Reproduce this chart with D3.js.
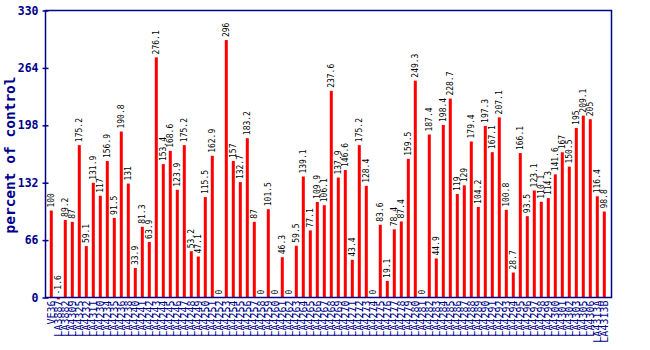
<!DOCTYPE html>
<html>
<head>
<meta charset="utf-8">
<script src="https://cdn.jsdelivr.net/npm/d3@7"></script>
<style>
  html, body { margin: 0; padding: 0; background: #fff; }
  svg { display: block; }
</style>
</head>
<body>
<svg id="chart" width="650" height="350"></svg>
<script>
// Sample lines along the x axis
const categories = [
  "VE36","LA3887","LA3882","LA4309","LA4325","LA4232","LA4311","LA4230",
  "LA4234","LA4235","LA4236","LA4238","LA4240","LA4241","LA4242","LA4243",
  "LA4244","LA4245","LA4246","LA4247","LA4248","LA4249","LA4250","LA4251",
  "LA4252","LA4253","LA4254","LA4255","LA4256","LA4257","LA4258","LA4259",
  "LA4260","LA4261","LA4262","LA4263","LA4264","LA4265","LA4266","LA4267",
  "LA4268","LA4269","LA4270","LA4271","LA4272","LA4273","LA4274","LA4275",
  "LA4276","LA4277","LA4278","LA4279","LA4280","LA4281","LA4282","LA4283",
  "LA4284","LA4285","LA4286","LA4287","LA4288","LA4289","LA4290","LA4291",
  "LA4292","LA4293","LA4294","LA4295","LA4296","LA4297","LA4298","LA4299",
  "LA4300","LA4301","LA4302","LA4303","LA4305","LA4306","LA4313A","LA4313B"
];

// Percent of control for each line
const values = [
  100, -1.6, 89.2, 87, 175.2, 59.1, 131.9, 117,
  156.9, 91.5, 190.8, 131, 33.9, 81.3, 63.9, 276.1,
  153.4, 168.6, 123.9, 175.2, 53.2, 47.1, 115.5, 162.9,
  0, 296, 157, 132.7, 183.2, 87, 0, 101.5,
  0, 46.3, 0, 59.5, 139.1, 77.1, 109.9, 106.1,
  237.6, 137.9, 146.6, 43.4, 175.2, 128.4, 0, 83.6,
  19.1, 78.4, 87.4, 159.5, 249.3, 0, 187.4, 44.9,
  198.4, 228.7, 119, 129, 179.4, 104.2, 197.3, 167.1,
  207.1, 100.8, 28.7, 166.1, 93.5, 123.1, 110.1, 114.3,
  141.6, 167, 150.5, 195, 209.1, 205, 116.4, 98.8
];

const yTicks = [0, 66, 132, 198, 264, 330];

const navy = "#00008b";
const svg = d3.select("#chart");

const frame = { left: 45.5, right: 611.5, top: 10.5, bottom: 297.5 };

const x = d3.scaleBand()
  .domain(categories)
  .range([47.8, 607.8])
  .padding(0);

const y = d3.scaleLinear()
  .domain([0, 330])
  .range([frame.bottom, frame.top]);

const barW = 3;

// Bars
svg.append("g")
  .selectAll("rect")
  .data(values)
  .join("rect")
  .attr("x", (d, i) => x(categories[i]) + x.bandwidth() / 2 - barW / 2)
  .attr("y", d => y(Math.max(d, 0)))
  .attr("width", barW)
  .attr("height", d => Math.abs(y(d) - y(0)) + 0.5)
  .attr("fill", "#ff0000");

// Frame around the plot
svg.append("rect")
  .attr("x", frame.left)
  .attr("y", frame.top)
  .attr("width", frame.right - frame.left)
  .attr("height", frame.bottom - frame.top)
  .attr("fill", "none")
  .attr("stroke", navy)
  .attr("stroke-width", 1.5);

// Y axis with ticks crossing the left edge
const yAxis = d3.axisLeft(y)
  .tickValues(yTicks)
  .tickSize(3)
  .tickPadding(4)
  .tickFormat(d3.format("d"));

const gy = svg.append("g")
  .attr("transform", `translate(${frame.left},0)`)
  .call(yAxis);
gy.select(".domain").remove();
gy.selectAll(".tick line")
  .attr("x1", 3)
  .attr("x2", -3)
  .attr("stroke", navy)
  .attr("stroke-width", 1.5);
gy.selectAll(".tick text")
  .attr("fill", navy)
  .attr("font-family", "'DejaVu Sans Mono', monospace")
  .attr("font-weight", "bold")
  .attr("font-size", 11.5);

// Y axis title
svg.append("text")
  .attr("transform", `translate(15,155) rotate(-90)`)
  .attr("text-anchor", "middle")
  .attr("fill", navy)
  .attr("font-family", "'DejaVu Sans Mono', monospace")
  .attr("font-weight", "bold")
  .attr("font-size", 14.5)
  .text("percent of control");

// Value labels above each bar
svg.append("g")
  .selectAll("text")
  .data(values)
  .join("text")
  .attr("transform", (d, i) => {
    const cx = x(categories[i]) + x.bandwidth() / 2 + 2.8;
    const cy = y(Math.max(d, 0)) - 3;
    return `translate(${cx},${cy}) rotate(-90)`;
  })
  .attr("text-anchor", "start")
  .attr("fill", "#000")
  .attr("font-family", "'DejaVu Sans Mono', monospace")
  .attr("font-size", 8)
  .text(d => String(d));

// Category labels along the x axis
const xAxis = d3.axisBottom(x).tickSize(0).tickPadding(0);
const gx = svg.append("g")
  .attr("transform", `translate(0,${frame.bottom})`)
  .call(xAxis);
gx.select(".domain").remove();
gx.selectAll(".tick text")
  .attr("transform", "translate(3.5,3) rotate(-90)")
  .attr("text-anchor", "end")
  .attr("dy", 0)
  .attr("y", 0)
  .attr("fill", navy)
  .attr("font-family", "'DejaVu Sans Mono', monospace")
  .attr("font-size", 10);
</script>
</body>
</html>
